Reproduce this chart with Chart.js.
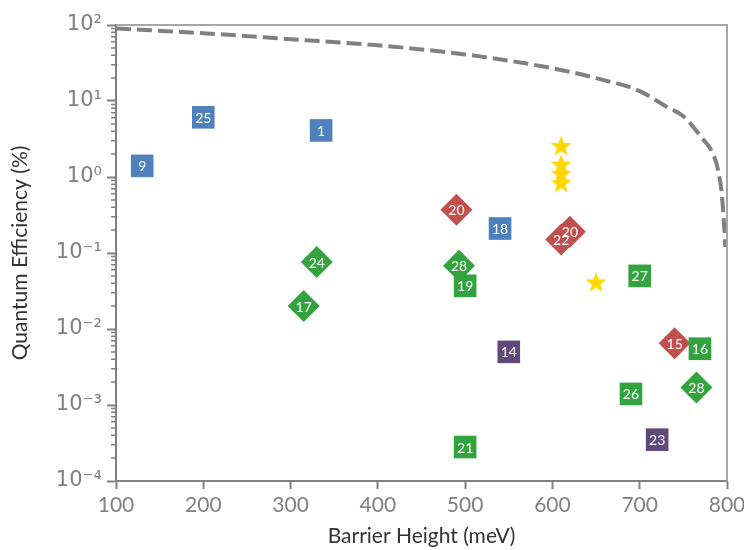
<!DOCTYPE html>
<html>
<head>
<meta charset="utf-8">
<script src="https://cdn.jsdelivr.net/npm/chart.js@4/dist/chart.umd.min.js"></script>
<style>
  html, body { margin: 0; padding: 0; background: #ffffff; }
  #wrap { width: 744px; height: 550px; }
</style>
</head>
<body>
<div id="wrap"><canvas id="qeChart"></canvas></div>
<script>
// barrier height (meV) / quantum efficiency (%)
const blueSqX = [130, 200, 335, 540];
const blueSqY = [1.4, 6.1, 4.1, 0.21];
const blueSqLabels = ['9', '25', '1', '18'];

const greenSqX = [500, 700, 769, 690, 500];
const greenSqY = [0.037, 0.05, 0.0055, 0.0014, 0.00028];
const greenSqLabels = ['19', '27', '16', '26', '21'];

const purpleSqX = [550, 720];
const purpleSqY = [0.005, 0.00035];
const purpleSqLabels = ['14', '23'];

const redDiaX = [490, 610, 620, 740];
const redDiaY = [0.37, 0.15, 0.19, 0.0065];
const redDiaLabels = ['20', '22', '20', '15'];

const greenDiaX = [330, 315, 493, 765];
const greenDiaY = [0.076, 0.02, 0.068, 0.0017];
const greenDiaLabels = ['24', '17', '28', '28'];

const starX = [610, 610, 610, 610, 650];
const starY = [2.55, 1.45, 1.1, 0.83, 0.041];

const limitX = [100, 200, 300, 400, 500, 600, 650, 700, 730, 750, 770, 785, 790, 794, 797, 798];
const limitY = [90, 78, 65, 54, 41, 27, 20, 13.5, 8.5, 6.3, 3.4, 1.9, 1.2, 0.6, 0.2, 0.12];

const yExponents = [-4, -3, -2, -1, 0, 1, 2];

const grey = '#808080';
const sup = { '-': '\u207B', '0': '\u2070', '1': '\u00B9', '2': '\u00B2', '3': '\u00B3', '4': '\u2074' };

function points(xs, ys) {
  return xs.map((x, i) => ({ x: x, y: ys[i] }));
}

// filled five point star used as point style
function starImage(color) {
  const c = document.createElement('canvas');
  c.width = 24;
  c.height = 24;
  const g = c.getContext('2d');
  g.fillStyle = color;
  g.beginPath();
  for (let i = 0; i < 10; i++) {
    const r = i % 2 === 0 ? 11 : 4.6;
    const a = -Math.PI / 2 + i * Math.PI / 5;
    const px = 12 + r * Math.cos(a);
    const py = 12.5 + r * Math.sin(a);
    if (i === 0) g.moveTo(px, py); else g.lineTo(px, py);
  }
  g.closePath();
  g.fill();
  return c;
}

function markerSet(xs, ys, labels, color, style) {
  return {
    type: 'scatter',
    data: points(xs, ys),
    labels: labels,
    pointStyle: style,
    pointRadius: 16,
    pointHoverRadius: 16,
    backgroundColor: color,
    borderColor: color,
    borderWidth: 0
  };
}

const pointLabels = {
  id: 'pointLabels',
  afterDatasetsDraw(chart) {
    const ctx = chart.ctx;
    ctx.save();
    ctx.fillStyle = '#ffffff';
    ctx.font = '14px Lato';
    ctx.textAlign = 'center';
    ctx.textBaseline = 'middle';
    chart.data.datasets.forEach((ds, i) => {
      if (!ds.labels) return;
      chart.getDatasetMeta(i).data.forEach((el, j) => {
        ctx.fillText(ds.labels[j], el.x, el.y + 1);
      });
    });
    ctx.restore();
  }
};

const frameAndMinor = {
  id: 'frameAndMinor',
  afterDraw(chart) {
    const ctx = chart.ctx;
    const a = chart.chartArea;
    const y = chart.scales.y;
    ctx.save();
    ctx.strokeStyle = '#a6a6a6';
    ctx.lineWidth = 2;
    ctx.beginPath();
    ctx.moveTo(a.left, a.top);
    ctx.lineTo(a.right, a.top);
    ctx.lineTo(a.right, a.bottom);
    ctx.stroke();
    ctx.strokeStyle = grey;
    ctx.lineWidth = 1.5;
    ctx.beginPath();
    for (let e = -4; e < 2; e++) {
      for (let m = 2; m <= 9; m++) {
        const py = y.getPixelForValue(m * Math.pow(10, e));
        ctx.moveTo(a.left - 5, py);
        ctx.lineTo(a.left, py);
      }
    }
    ctx.stroke();
    ctx.restore();
  }
};

new Chart(document.getElementById('qeChart'), {
  data: {
    datasets: [
      markerSet(blueSqX, blueSqY, blueSqLabels, '#4f81bd', 'rect'),
      markerSet(greenSqX, greenSqY, greenSqLabels, '#33a33f', 'rect'),
      markerSet(purpleSqX, purpleSqY, purpleSqLabels, '#604a7b', 'rect'),
      markerSet(redDiaX, redDiaY, redDiaLabels, '#c0504d', 'rectRot'),
      markerSet(greenDiaX, greenDiaY, greenDiaLabels, '#33a33f', 'rectRot'),
      {
        type: 'scatter',
        data: points(starX, starY),
        pointStyle: starImage('#ffd700'),
        pointRadius: 12,
        backgroundColor: '#ffd700'
      },
      {
        type: 'line',
        data: points(limitX, limitY),
        borderColor: grey,
        borderWidth: 4,
        borderDash: [15, 6],
        pointRadius: 0,
        fill: false,
        cubicInterpolationMode: 'monotone'
      }
    ]
  },
  options: {
    responsive: true,
    maintainAspectRatio: false,
    animation: false,
    layout: { padding: { top: 25, right: 17, left: 0, bottom: 0 } },
    plugins: {
      legend: { display: false },
      tooltip: { enabled: false }
    },
    scales: {
      x: {
        type: 'linear',
        min: 100,
        max: 800,
        afterFit: (scale) => {
          scale.height = 69;
          scale.paddingLeft = 0;
          scale.paddingRight = 0;
        },
        ticks: {
          stepSize: 100,
          color: grey,
          padding: 4,
          font: { family: 'Lato', size: 21 }
        },
        grid: {
          drawOnChartArea: false,
          tickLength: 8,
          tickColor: grey,
          tickWidth: 2
        },
        border: { color: grey, width: 2 },
        title: {
          display: true,
          text: 'Barrier Height (meV)',
          color: '#333333',
          padding: { top: 0, bottom: 1 },
          font: { family: 'Lato', size: 21 }
        }
      },
      y: {
        type: 'logarithmic',
        min: 1e-4,
        max: 100,
        afterFit: (scale) => {
          scale.width = 116;
          scale.paddingTop = 0;
          scale.paddingBottom = 0;
        },
        afterBuildTicks: (scale) => {
          scale.ticks = yExponents.map(e => ({ value: Math.pow(10, e), major: true }));
        },
        ticks: {
          color: grey,
          padding: 5,
          font: { family: 'DejaVu Sans', size: 21 },
          callback: (v) => {
            const e = String(Math.round(Math.log10(v)));
            return '10' + e.split('').map(c => sup[c]).join('');
          }
        },
        grid: {
          drawOnChartArea: false,
          tickLength: 9,
          tickColor: grey,
          tickWidth: 2
        },
        border: { color: grey, width: 2 },
        title: {
          display: true,
          text: 'Quantum Efficiency (%)',
          color: '#333333',
          padding: { top: 8, bottom: 0 },
          font: { family: 'Lato', size: 21 }
        }
      }
    }
  },
  plugins: [pointLabels, frameAndMinor]
});
</script>
</body>
</html>
